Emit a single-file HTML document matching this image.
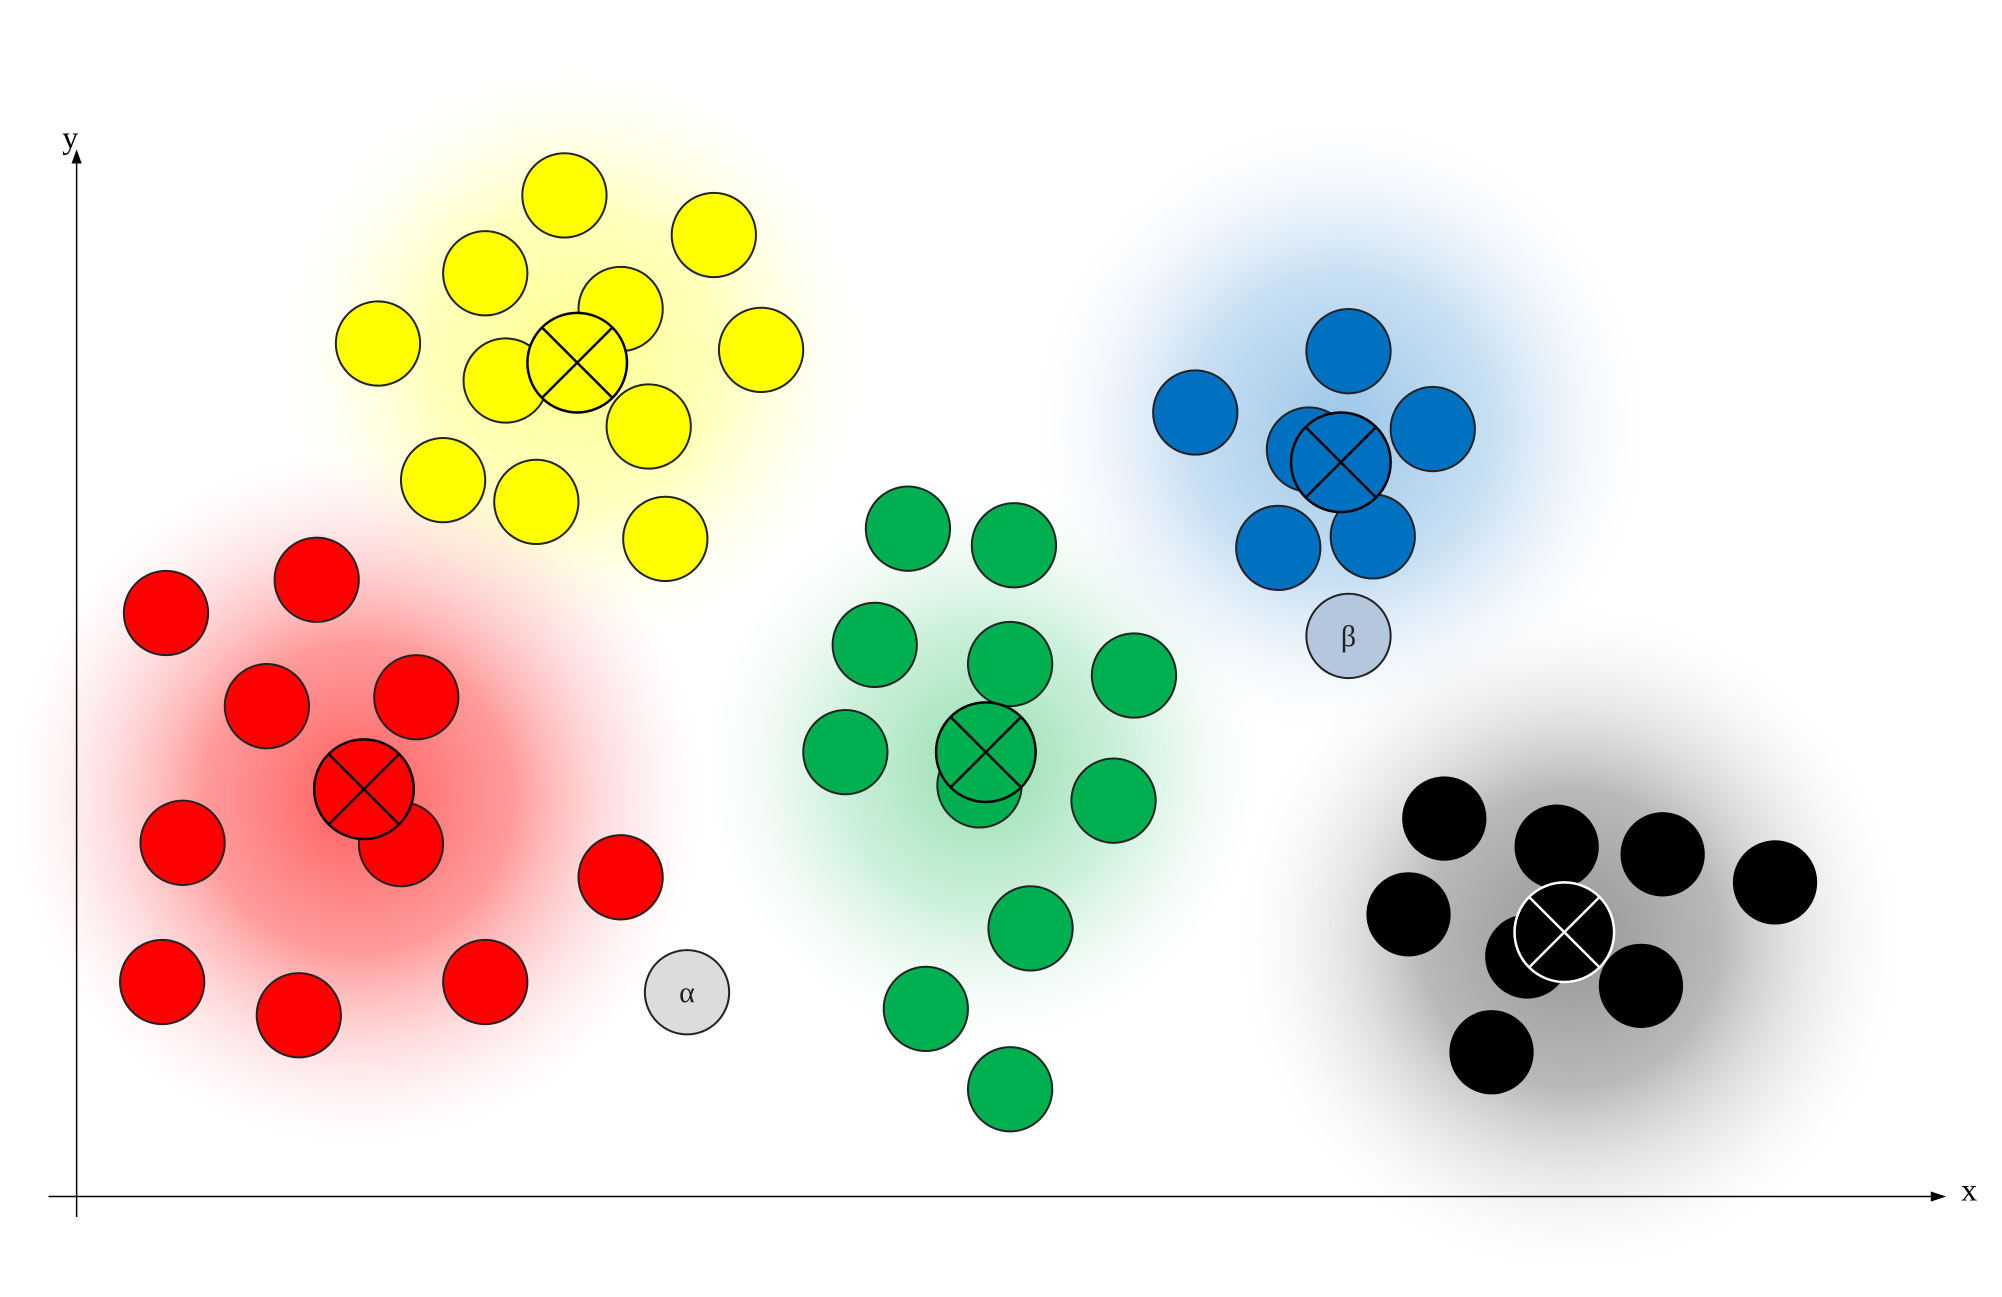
<!DOCTYPE html>
<html><head><meta charset="utf-8"><style>
html,body{margin:0;padding:0;background:#fff;}
svg{display:block;}
</style></head><body>
<svg id="chart" width="2002" height="1297" viewBox="0 0 2002 1297" xmlns="http://www.w3.org/2000/svg">
<defs>
<radialGradient id="gY"><stop offset="0" stop-color="#ffff80" stop-opacity="0.9"/><stop offset="0.5" stop-color="#ffffa0" stop-opacity="0.7"/><stop offset="1" stop-color="#ffffe0" stop-opacity="0"/></radialGradient>
<radialGradient id="gR"><stop offset="0" stop-color="#ff4040" stop-opacity="0.85"/><stop offset="0.45" stop-color="#ff7070" stop-opacity="0.7"/><stop offset="1" stop-color="#ffd0d8" stop-opacity="0"/></radialGradient>
<radialGradient id="gG"><stop offset="0" stop-color="#80d8a0" stop-opacity="0.85"/><stop offset="0.5" stop-color="#a8e6c0" stop-opacity="0.6"/><stop offset="1" stop-color="#e0f6ea" stop-opacity="0"/></radialGradient>
<radialGradient id="gB"><stop offset="0" stop-color="#8fbfe6" stop-opacity="0.9"/><stop offset="0.5" stop-color="#b0d2ee" stop-opacity="0.7"/><stop offset="1" stop-color="#e8f2fa" stop-opacity="0"/></radialGradient>
<radialGradient id="gK"><stop offset="0" stop-color="#888" stop-opacity="0.9"/><stop offset="0.45" stop-color="#a8a8a8" stop-opacity="0.8"/><stop offset="1" stop-color="#f0f0f0" stop-opacity="0"/></radialGradient>
</defs>
<g id="glows"></g>
<g id="axes"></g>
<g id="points"></g>
</svg>
<script>
const S = 1.277;
const clusterNames = ['yellow','red','green','blue','black'];
const yellowX = [442,559,380,486,296,596,396,508,347,420,521];
const yellowY = [153,184,214,242,269,274,298,334,376,393,422];
const redX = [130,248,209,326,143,314,486,127,234,380];
const redY = [480,454,553,546,660,661,687,769,795,769];
const greenX = [711,794,685,791,888,662,767,872,807,725,791];
const greenY = [414,427,505,520,529,589,615,627,727,790,853];
const blueX = [936,1056,1122,1025,1001,1075];
const blueY = [323,275,336,352,429,420];
const blackX = [1131,1219,1302,1390,1103,1196,1285,1168];
const blackY = [641,663,669,691,716,749,772,824];
const centroidX = [452,285,772,1050,1225];
const centroidY = [284,618,589,362,730];
const glowX = [450,280,770,1050,1230];
const glowY = [280,625,600,335,735];
const glowR = [230,270,220,240,260];
const outlierLabels = ['α','β'];
const outlierX = [538,1056];
const outlierY = [777,498];

const fills = ['#ffff00','#ff0000','#00b050','#0070c0','#000000'];
const grads = ['gY','gR','gG','gB','gK'];
const xs = [yellowX,redX,greenX,blueX,blackX];
const ys = [yellowY,redY,greenY,blueY,blackY];
const sx = v => v*S, sy = v => v*S;
const NS = 'http://www.w3.org/2000/svg';
function mk(tag, attrs, parent){const e=document.createElementNS(NS,tag);for(const k in attrs)e.setAttribute(k,attrs[k]);parent.appendChild(e);return e;}

const glows = document.getElementById('glows');
clusterNames.forEach((n,i)=>{
  const e = mk('circle',{cx:sx(glowX[i]),cy:sy(glowY[i]),r:sx(glowR[i]),fill:'url(#'+grads[i]+')'},glows);
  
  
});

const axes = document.getElementById('axes');
let a;
a = mk('line',{x1:sx(60),y1:sy(953),x2:sx(60),y2:sy(124),stroke:'#000','stroke-width':1.5},axes);
 
a = mk('polygon',{points:`${sx(60)},${sy(117)} ${sx(56)},${sy(128)} ${sx(64)},${sy(128)}`,fill:'#000'},axes);
 
a = mk('line',{x1:sx(38),y1:sy(937),x2:sx(1515),y2:sy(937),stroke:'#000','stroke-width':1.5},axes);
 
a = mk('polygon',{points:`${sx(1524)},${sy(937)} ${sx(1512)},${sy(933)} ${sx(1512)},${sy(941)}`,fill:'#000'},axes);
 
a = mk('text',{x:sx(55),y:sy(116),'text-anchor':'middle','font-family':'Liberation Serif, serif','font-size':32},axes);
a.textContent='y';
 
a = mk('text',{x:sx(1542),y:sy(940),'text-anchor':'middle','font-family':'Liberation Serif, serif','font-size':32},axes);
a.textContent='x';
 

const pts = document.getElementById('points');
const R = 33*S, RC = 39*S;
clusterNames.forEach((n,i)=>{
  const X = xs[i], Y = ys[i];
  for(let j=0;j<X.length;j++){
    const c = mk('circle',{cx:sx(X[j]),cy:sy(Y[j]),r:R,fill:fills[i],stroke:i===4?'none':'#222','stroke-width':2},pts);
    
    
  }
  const g = mk('g',{},pts);
  
  
  const cx=sx(centroidX[i]), cy=sy(centroidY[i]);
  const st = i===4?'#fff':'#000';
  mk('circle',{cx:cx,cy:cy,r:RC,fill:fills[i],stroke:st,'stroke-width':2.5},g);
  const d = RC*0.7071;
  mk('line',{x1:cx-d,y1:cy-d,x2:cx+d,y2:cy+d,stroke:st,'stroke-width':2.5},g);
  mk('line',{x1:cx+d,y1:cy-d,x2:cx-d,y2:cy+d,stroke:st,'stroke-width':2.5},g);
});
const ofills = ['#dcdcdc','#b4c7dc'];
outlierLabels.forEach((l,i)=>{
  const g = mk('g',{},pts);
  
  
  mk('circle',{cx:sx(outlierX[i]),cy:sy(outlierY[i]),r:R,fill:ofills[i],stroke:'#222','stroke-width':2},g);
  const t = mk('text',{x:sx(outlierX[i]),y:sy(outlierY[i])+10,'text-anchor':'middle','font-family':'Liberation Serif, DejaVu Serif, serif','font-size':30,fill:'#222'},g);
  t.textContent = l;
});
</script>
</body></html>
